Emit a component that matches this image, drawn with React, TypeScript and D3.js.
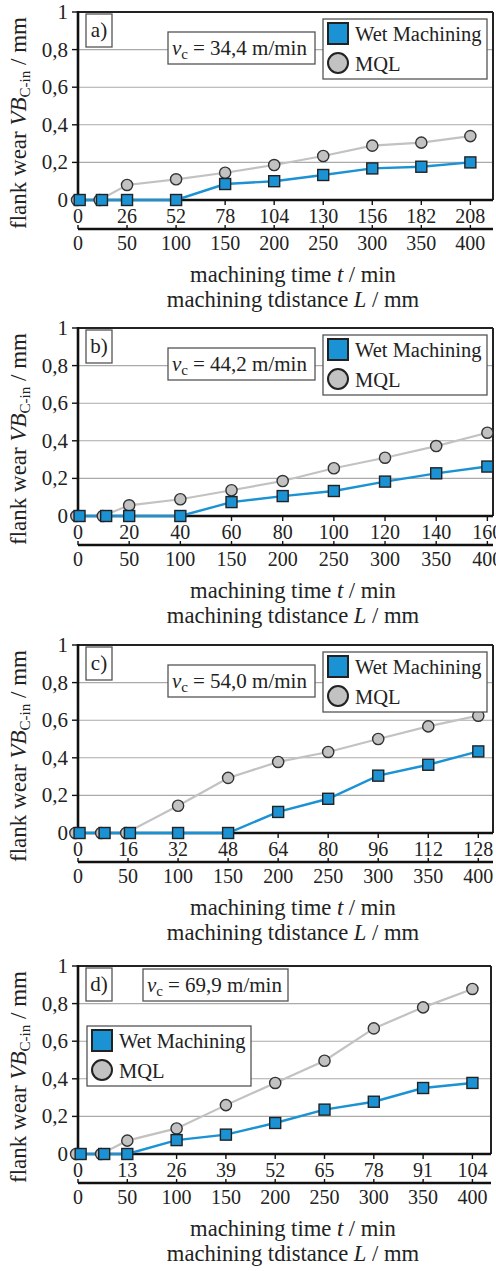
import React from 'react';
import * as d3 from 'd3';

// flank wear panels a) .. d)
const yTicks = [0, 0.2, 0.4, 0.6, 0.8, 1];
const distTicks = [0, 50, 100, 150, 200, 250, 300, 350, 400];

const panelNames = ['a)', 'b)', 'c)', 'd)'];
const cuttingSpeeds = ['34,4', '44,2', '54,0', '69,9'];

const timeTicksA = [0, 26, 52, 78, 104, 130, 156, 182, 208];
const timeTicksB = [0, 20, 40, 60, 80, 100, 120, 140, 160];
const timeTicksC = [0, 16, 32, 48, 64, 80, 96, 112, 128];
const timeTicksD = [0, 13, 26, 39, 52, 65, 78, 91, 104];

const mqlTimeA = [-0.5, 11.5, 26, 52, 78, 104, 130, 156, 182, 208];
const wetTimeA = [0.9, 12.7, 26, 52, 78, 104, 130, 156, 182, 208];
const mqlA = [0, 0, 0.08, 0.11, 0.145, 0.186, 0.234, 0.289, 0.305, 0.34];
const wetA = [0, 0, 0, 0, 0.085, 0.1, 0.133, 0.168, 0.177, 0.2];

const mqlTimeB = [-0.65, 9.7, 20, 40, 60, 80, 100, 120, 140, 160];
const wetTimeB = [0.6, 11, 20, 40, 60, 80, 100, 120, 140, 160];
const mqlB = [0, 0, 0.057, 0.089, 0.137, 0.186, 0.254, 0.31, 0.372, 0.443];
const wetB = [0, 0, 0, 0, 0.074, 0.106, 0.133, 0.183, 0.227, 0.263];

const mqlTimeC = [-0.85, 7.4, 15.4, 32, 48, 64, 80, 96, 112, 128];
const wetTimeC = [0.5, 8.5, 16.6, 32, 48, 64, 80, 96, 112, 128];
const mqlC = [0, 0, 0, 0.145, 0.293, 0.378, 0.431, 0.5, 0.567, 0.624];
const wetC = [0, 0, 0, 0, 0, 0.112, 0.182, 0.305, 0.363, 0.434];

const mqlTimeD = [-0.5, 6.1, 13, 26, 39, 52, 65, 78, 91, 104];
const wetTimeD = [0.7, 6.9, 13, 26, 39, 52, 65, 78, 91, 104];
const mqlD = [0, 0, 0.071, 0.136, 0.26, 0.378, 0.496, 0.668, 0.78, 0.878];
const wetD = [0, 0, 0, 0.074, 0.103, 0.165, 0.236, 0.278, 0.351, 0.378];

const FONT = "'Liberation Serif', 'Times New Roman', Times, serif";
const BLUE = '#1b92d4';
const GREY = '#c2c2c2';

const panels = [
  { ticks: timeTicksA, mqlT: mqlTimeA, wetT: wetTimeA, mql: mqlA, wet: wetA, top: 12, right: 493, tMax: 220 },
  { ticks: timeTicksB, mqlT: mqlTimeB, wetT: wetTimeB, mql: mqlB, wet: wetB, top: 328, right: 493, tMax: 162.2 },
  { ticks: timeTicksC, mqlT: mqlTimeC, wetT: wetTimeC, mql: mqlC, wet: wetC, top: 645, right: 493, tMax: 132.7 },
  { ticks: timeTicksD, mqlT: mqlTimeD, wetT: wetTimeD, mql: mqlD, wet: wetD, top: 966, right: 491, tMax: 108.9 },
];

const left = 78;
const plotH = 188;

const Legend = ({ x, y }) => (
  <g transform={`translate(${x},${y})`}>
    <rect width={164} height={60} fill="white" stroke="#555" strokeWidth={1.3} />
    <rect x={5} y={4} width={20} height={21} fill={BLUE} stroke="#222" strokeWidth={2} />
    <circle cx={15} cy={44} r={10} fill={GREY} stroke="#222" strokeWidth={2} />
    <text x={32} y={22} fontSize={20.5} fill="#222">Wet Machining</text>
    <text x={32} y={52} fontSize={20.5} fill="#222">MQL</text>
  </g>
);

const Panel = ({ p, i }) => {
  const bottom = p.top + plotH;
  const x = d3.scaleLinear().domain([0, p.tMax]).range([left, p.right]);
  const tLast = p.ticks[p.ticks.length - 1];
  const xd = d3.scaleLinear().domain([0, (400 * p.tMax) / tLast]).range([left, p.right]);
  const y = d3.scaleLinear().domain([0, 1]).range([bottom, p.top]);
  const line = d3.line().x((d) => x(d[0])).y((d) => y(d[1]));
  const mqlPts = p.mqlT.map((t, k) => [t, p.mql[k]]);
  const wetPts = p.wetT.map((t, k) => [t, p.wet[k]]);
  const isD = i === 3;
  const vc = isD ? { x: 143, y: p.top + 3, w: 145 } : { x: 168, y: p.top + 20, w: 147 };
  const lg = isD ? { x: 87, y: p.top + 60 } : { x: 323, y: p.top + 7 };

  return (
    <g>
      {/* grid */}
      {yTicks.slice(1, -1).map((v) => (
        <line key={v} x1={left} x2={p.right} y1={y(v)} y2={y(v)} stroke="#aaa" strokeWidth={1.1} />
      ))}
      {/* frame */}
      <line x1={left} x2={p.right} y1={p.top} y2={p.top} stroke="#222" strokeWidth={2} />
      <line x1={p.right} x2={p.right} y1={p.top} y2={bottom} stroke="#222" strokeWidth={2} />
      <line x1={left} x2={left} y1={p.top - 1} y2={bottom} stroke="#111" strokeWidth={2.6} />
      <line x1={left} x2={p.right} y1={bottom} y2={bottom} stroke="#111" strokeWidth={2.4} />

      {/* y axis */}
      {yTicks.map((v) => (
        <g key={v}>
          <line x1={left - 6} x2={left} y1={y(v)} y2={y(v)} stroke="#111" strokeWidth={1.4} />
          <text x={68} y={y(v)} dy="0.33em" textAnchor="end" fontSize={21} fill="#222">
            {d3.format('.1~f')(v).replace('.', ',')}
          </text>
        </g>
      ))}

      {/* time axis */}
      {p.ticks.map((t) => (
        <g key={t}>
          <line x1={x(t)} x2={x(t)} y1={bottom} y2={bottom + 5} stroke="#111" strokeWidth={1.4} />
          <text x={x(t)} y={bottom + 23} textAnchor="middle" fontSize={20} fill="#222">{t}</text>
        </g>
      ))}

      {/* distance axis */}
      <line x1={left} x2={p.right} y1={bottom + 29} y2={bottom + 29} stroke="#111" strokeWidth={2.4} />
      {distTicks.map((d) => (
        <g key={d}>
          <line x1={xd(d)} x2={xd(d)} y1={bottom + 25} y2={bottom + 29} stroke="#111" strokeWidth={1.4} />
          <text x={xd(d)} y={bottom + 50} textAnchor="middle" fontSize={20} fill="#222">{d}</text>
        </g>
      ))}

      {/* y title */}
      <text transform={`translate(26,${p.top + 111}) rotate(-90)`} textAnchor="middle" fontSize={23} fill="#222">
        flank wear <tspan fontStyle="italic">VB</tspan>
        <tspan fontSize={15} dy={4}>C-in</tspan>
        <tspan dy={-4}> / mm</tspan>
      </text>

      {/* x titles */}
      <text x={293} y={bottom + 82} textAnchor="middle" fontSize={22.6} fill="#222">
        machining time <tspan fontStyle="italic">t</tspan> / min
      </text>
      <text x={293} y={bottom + 107} textAnchor="middle" fontSize={22.6} fill="#222">
        machining tdistance <tspan fontStyle="italic">L</tspan> / mm
      </text>

      {/* panel label */}
      <rect x={86} y={p.top + 2} width={26} height={33} fill="white" stroke="#555" strokeWidth={1.3} />
      <text x={99} y={p.top + 25} textAnchor="middle" fontSize={21} fill="#222">{panelNames[i]}</text>

      {/* cutting speed */}
      <rect x={vc.x} y={vc.y} width={vc.w} height={32} fill="white" stroke="#555" strokeWidth={1.3} />
      <text x={vc.x + 4} y={vc.y + 23} fontSize={21} fill="#222">
        <tspan fontStyle="italic">v</tspan>
        <tspan fontSize={15} dy={4}>c</tspan>
        <tspan dy={-4} dx={5}>{`= ${cuttingSpeeds[i]} m/min`}</tspan>
      </text>

      {/* series */}
      <path d={line(mqlPts)} fill="none" stroke={GREY} strokeWidth={2.2} />
      <path d={line(wetPts)} fill="none" stroke={BLUE} strokeWidth={2.4} />
      {mqlPts.map((d, k) => (
        <circle key={k} cx={x(d[0])} cy={y(d[1])} r={5.6} fill={GREY} stroke="#333" strokeWidth={1.4} />
      ))}
      {wetPts.map((d, k) => (
        <rect key={k} x={x(d[0]) - 5.5} y={y(d[1]) - 5.5} width={11} height={11} fill={BLUE} stroke="#222" strokeWidth={1.4} />
      ))}

      <Legend x={lg.x} y={lg.y} />
    </g>
  );
};

export default function App() {
  return (
    <svg
      width={496}
      height={1271}
      style={{ position: 'absolute', left: 0, top: 0, background: 'white', fontFamily: FONT }}
    >
      <rect width={496} height={1271} fill="white" />
      {panels.map((p, i) => (
        <Panel key={i} p={p} i={i} />
      ))}
    </svg>
  );
}
